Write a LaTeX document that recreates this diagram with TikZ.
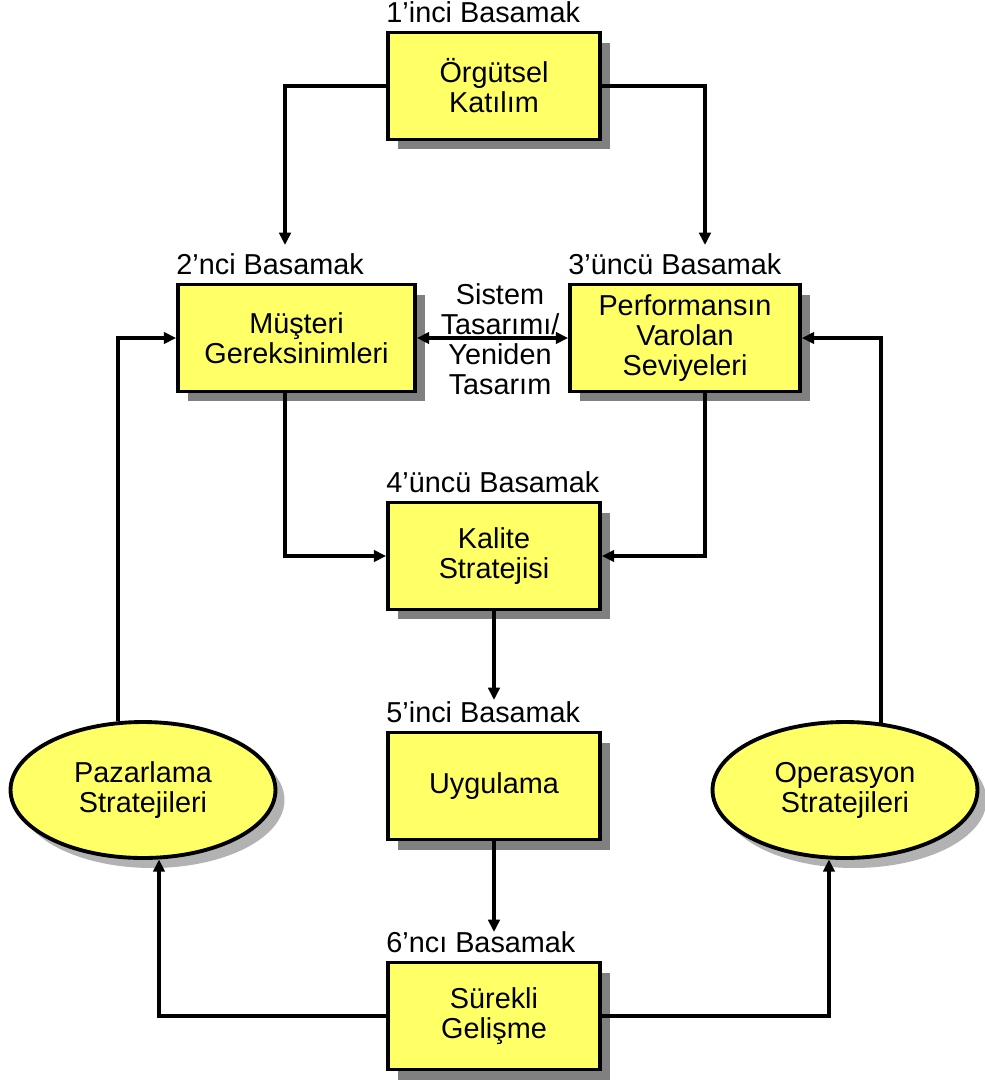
\documentclass[tikz,border=0pt]{standalone}
\usepackage{fontspec}
\setmainfont{Liberation Sans}
\usetikzlibrary{arrows.meta,shapes.geometric,shadows}
\definecolor{stepyellow}{HTML}{FFFF66}
\tikzset{
  stepbox/.style={draw, line width=2.2pt, fill=stepyellow, minimum width=4.24cm,
    minimum height=2.14cm, align=center,
    drop shadow={shadow xshift=0.2cm, shadow yshift=-0.2cm, fill=black!50, opacity=1}},
  strat/.style={ellipse, draw, line width=2.2pt, fill=stepyellow, minimum width=5.3cm,
    minimum height=2.72cm, align=center,
    drop shadow={shadow xshift=0.18cm, shadow yshift=-0.2cm, fill=black!30, opacity=1}},
  steplabel/.style={anchor=base west, inner sep=0pt},
  arr/.style={line width=1.9pt, -{Triangle[length=7pt,width=6.5pt]}},
  dbl/.style={line width=1.9pt, {Triangle[length=7pt,width=6.5pt]}-{Triangle[length=7pt,width=6.5pt]}}
}
\begin{document}
\begin{tikzpicture}[x=0.02cm, y=-0.02cm, font=\fontsize{16.4}{17}\selectfont]
\useasboundingbox (0,0) rectangle (985,1080);
% steps
\node[stepbox] (b1) at (494,86) {Örgütsel\\Katılım};
\node[stepbox, minimum width=4.74cm] (b2) at (296.5,338) {Müşteri\\Gereksinimleri};
\node[stepbox, minimum width=4.6cm] (b3) at (685,338) {Performansın\\Varolan\\Seviyeleri};
\node[stepbox] (b4) at (494,556) {Kalite\\Stratejisi};
\node[stepbox] (b5) at (494,786) {Uygulama};
\node[stepbox] (b6) at (494,1016) {Sürekli\\Gelişme};
\node[steplabel] (l1) at ([yshift=0.16cm]b1.north west) {1’inci Basamak};
\node[steplabel] (l2) at ([yshift=0.16cm]b2.north west) {2’nci Basamak};
\node[steplabel] (l3) at ([yshift=0.16cm]b3.north west) {3’üncü Basamak};
\node[steplabel] (l4) at ([yshift=0.16cm]b4.north west) {4’üncü Basamak};
\node[steplabel] (l5) at ([yshift=0.16cm]b5.north west) {5’inci Basamak};
\node[steplabel] (l6) at ([yshift=0.16cm]b6.north west) {6’ncı Basamak};
% strategies
\node[strat] (e1) at (143,790) {Pazarlama\\Stratejileri};
\node[strat] (e2) at (845,790) {Operasyon\\Stratejileri};
% arrow ends above the labels
\coordinate (c2) at (285,245);
\coordinate (c3) at (705,245);
\coordinate (c5) at (494,700);
\coordinate (c6) at (494,932);
\draw[arr] (b1.west) -| (c2);
\draw[arr] (b1.east) -| (c3);
\node[align=center, inner sep=0pt] (st) at (500,339) {Sistem\\Tasarımı/\\Yeniden\\Tasarım};
\draw[dbl] (b2.east) -- (b3.west);
\draw[arr] (b2.south -| c2) |- (b4.west);
\draw[arr] (b3.south -| c3) |- (b4.east);
\draw[arr] (b4.south) -- (c5);
\draw[arr] (b5.south) -- (c6);
\draw[arr] (b6.west) -| (e1.283);
\draw[arr] (b6.east) -| (e2.257);
\draw[arr] (e1.110) |- (b2.west);
\draw[arr] (e2.62) |- (b3.east);
\end{tikzpicture}
\end{document}
